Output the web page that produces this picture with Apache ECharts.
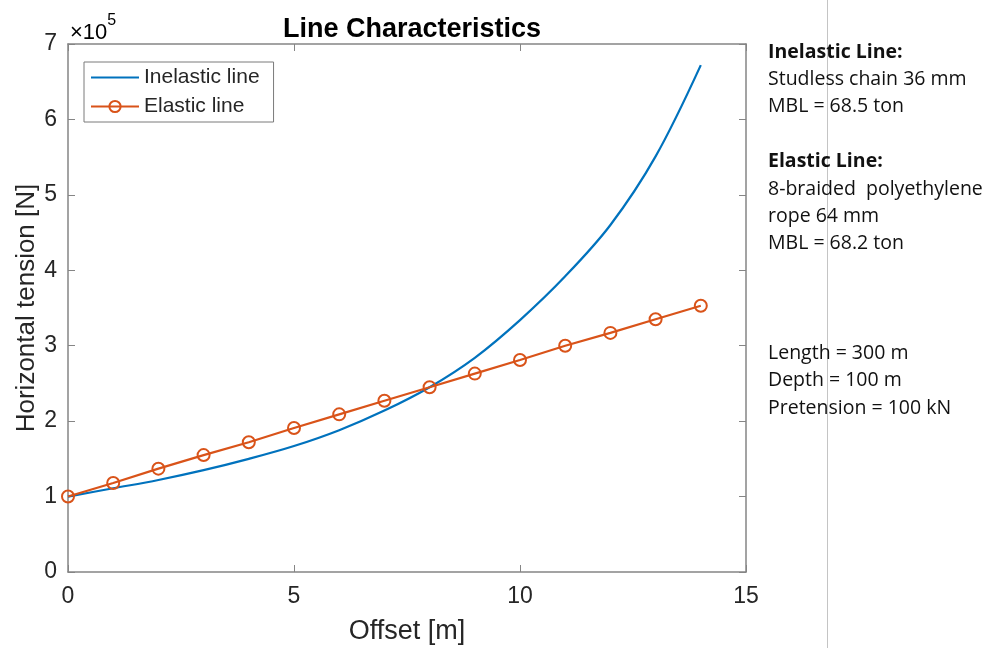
<!DOCTYPE html>
<html>
<head>
<meta charset="utf-8">
<script src="https://cdn.jsdelivr.net/npm/echarts@6/dist/echarts.min.js"></script>
<style>
  html, body { margin: 0; padding: 0; background: #fff; }
  #chart { width: 991px; height: 648px; }
</style>
</head>
<body>
<div id="chart"></div>
<script>
// offsets [m]
const offsets = [0, 1, 2, 3, 4, 5, 6, 7, 8, 9, 10, 11, 12, 13, 14]
// horizontal tension [N]
const inelastic = [100000, 111000, 122000, 135000, 150000, 167000, 188000, 214000, 245000, 284000, 334000, 392000, 460000, 551000, 672000]
const elastic = [100000, 118000, 137000, 155000, 172000, 191000, 209000, 227000, 245000, 263000, 281000, 300000, 317000, 335000, 353000]

const xTicks = [0, 5, 10, 15]
const yTicks = [0, 1, 2, 3, 4, 5, 6, 7]

const noteLines = [
  ['Inelastic Line:', true],
  ['Studless chain 36 mm', false],
  ['MBL = 68.5 ton', false],
  ['', false],
  ['Elastic Line:', true],
  ['8-braided  polyethylene', false],
  ['rope 64 mm', false],
  ['MBL = 68.2 ton', false],
  ['', false],
  ['', false],
  ['', false],
  ['Length = 300 m', false],
  ['Depth = 100 m', false],
  ['Pretension = 100 kN', false],
]

const font = 'Liberation Sans, Arial, sans-serif'
const noteFont = 'Open Sans, sans-serif'
const axisGrey = '#858585'
const textDark = '#262626'

const chart = echarts.init(document.getElementById('chart'), null, { renderer: 'canvas' })

const pair = (xs, ys) => xs.map((x, i) => [x, ys[i]])

// notes on the right, one text per line
const notes = noteLines.map((l, i) => ({
  type: 'text',
  left: 768,
  top: 42 + i * 27.4,
  style: {
    text: l[0],
    font: (l[1] ? 'bold ' : '') + '19.5px ' + noteFont,
    fill: '#111',
  },
}))

const boxAxis = {
  axisLine: { show: true, onZero: false, lineStyle: { color: axisGrey, width: 1.5 } },
  axisTick: { show: true, inside: true, length: 7, lineStyle: { color: axisGrey } },
  splitLine: { show: false },
}

const option = {
  animation: false,
  backgroundColor: '#fff',
  title: {
    text: 'Line Characteristics',
    left: 407,
    textAlign: 'center',
    top: 11,
    textStyle: { fontFamily: font, fontSize: 27, fontWeight: 'bold', color: '#000' },
  },
  grid: { left: 68, right: 245, top: 44, bottom: 76, containLabel: false, outerBoundsMode: 'none' },
  legend: {
    orient: 'vertical',
    left: 84,
    top: 62,
    padding: [5, 14, 5, 6],
    itemGap: 8,
    itemWidth: 48,
    itemHeight: 14,
    backgroundColor: '#fff',
    borderColor: '#7a7a7a',
    borderWidth: 1,
    borderRadius: 0,
    textStyle: { fontFamily: font, fontSize: 21, color: textDark },
    data: [
      { name: 'Inelastic line', itemStyle: { opacity: 0 } },
      { name: 'Elastic line' },
    ],
  },
  xAxis: [
    {
      ...boxAxis,
      type: 'value',
      min: 0,
      max: 15,
      interval: 5,
      name: 'Offset [m]',
      nameLocation: 'middle',
      nameGap: 46,
      nameTextStyle: { fontFamily: font, fontSize: 27, color: textDark },
      axisLabel: { fontFamily: font, fontSize: 23, color: textDark, margin: 13, customValues: xTicks },
    },
    {
      ...boxAxis,
      type: 'value',
      position: 'top',
      min: 0,
      max: 15,
      interval: 5,
      axisLabel: { show: false },
    },
  ],
  yAxis: [
    {
      ...boxAxis,
      type: 'value',
      min: 0,
      max: 700000,
      interval: 100000,
      name: 'Horizontal tension [N]',
      nameLocation: 'middle',
      nameGap: 28,
      nameMoveOverlap: false,
      nameRotate: 90,
      nameTextStyle: { fontFamily: font, fontSize: 26, color: textDark },
      axisLabel: {
        fontFamily: font, fontSize: 23, color: textDark, margin: 11,
        formatter: v => String(yTicks[Math.round(v / 100000)]),
      },
    },
    {
      ...boxAxis,
      type: 'value',
      position: 'right',
      min: 0,
      max: 700000,
      interval: 100000,
      axisLabel: { show: false },
    },
  ],
  series: [
    {
      name: 'Inelastic line',
      type: 'line',
      smooth: 0.35,
      showSymbol: false,
      symbol: 'none',
      data: pair(offsets, inelastic),
      lineStyle: { color: '#0072BD', width: 2.2 },
      itemStyle: { color: '#0072BD' },
      z: 2,
    },
    {
      name: 'Elastic line',
      type: 'line',
      symbol: 'circle',
      symbolSize: 12,
      data: pair(offsets, elastic),
      lineStyle: { color: '#D95319', width: 2.2 },
      itemStyle: { color: 'rgba(0,0,0,0)', borderColor: '#D95319', borderWidth: 2 },
      z: 3,
    },
  ],
  graphic: [
    {
      type: 'text',
      left: 70,
      top: 13,
      style: {
        text: '{a|×10}{b|5}',
        rich: {
          a: { fontFamily: font, fontSize: 22, color: textDark, padding: [9, 0, 0, 0] },
          b: { fontFamily: font, fontSize: 16, color: textDark, verticalAlign: 'top' },
        },
      },
    },
    {
      type: 'line',
      shape: { x1: 827.5, y1: 0, x2: 827.5, y2: 648 },
      style: { stroke: '#c4c4c4', lineWidth: 1 },
      z: 0,
    },
    ...notes,
  ],
}

chart.setOption(option)
</script>
</body>
</html>
